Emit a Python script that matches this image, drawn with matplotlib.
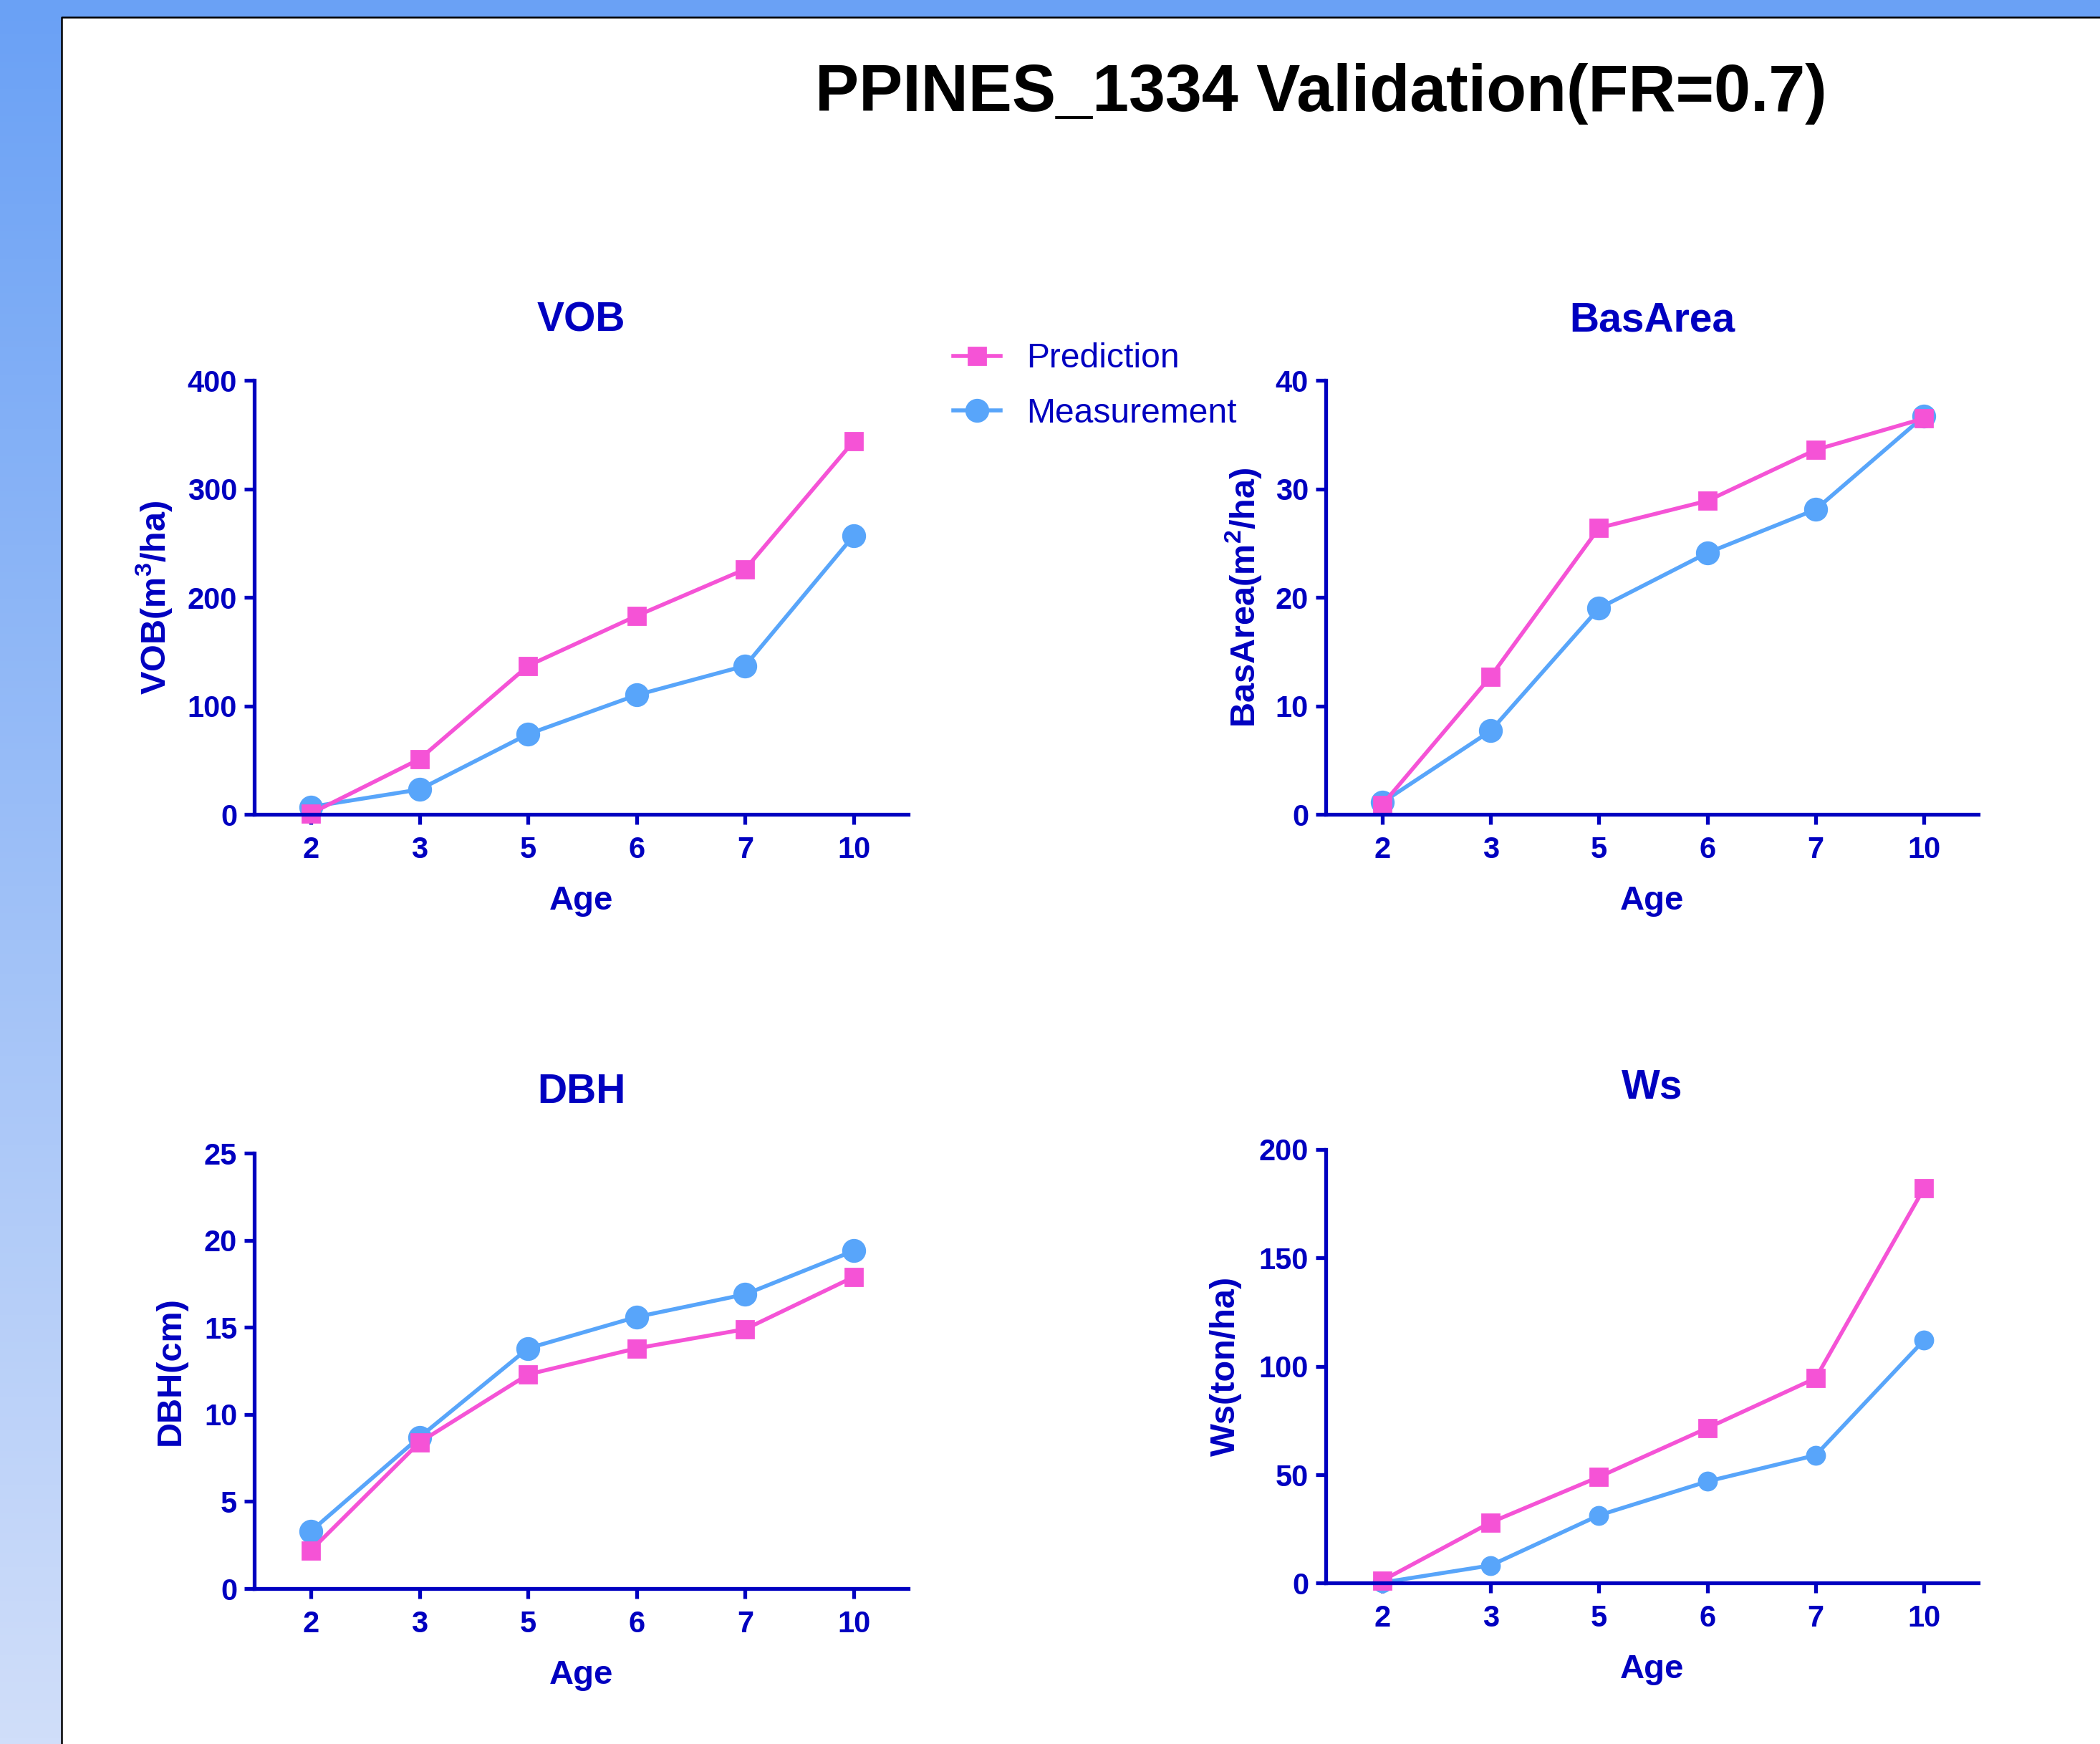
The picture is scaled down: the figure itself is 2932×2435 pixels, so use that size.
import numpy as np
import matplotlib
matplotlib.use("Agg")
import matplotlib.pyplot as plt
from matplotlib.patches import Rectangle
from matplotlib.colors import LinearSegmentedColormap

plt.rcParams["font.family"] = ["Liberation Sans", "DejaVu Sans"]
plt.rcParams["mathtext.fontset"] = "custom"
plt.rcParams["mathtext.rm"] = "Liberation Sans:bold"
plt.rcParams["mathtext.bf"] = "Liberation Sans:bold"
plt.rcParams["mathtext.default"] = "bf"

# categorical x axis (Age)
ages = ["2", "3", "5", "6", "7", "10"]

vob_pred = [1, 51, 137, 183, 226, 344]
vob_meas = [7, 23, 74, 110, 137, 257]
basarea_pred = [0.9, 12.7, 26.4, 28.9, 33.6, 36.5]
basarea_meas = [1.1, 7.7, 19.0, 24.1, 28.1, 36.7]
dbh_pred = [2.2, 8.4, 12.3, 13.8, 14.9, 17.9]
dbh_meas = [3.3, 8.7, 13.8, 15.6, 16.9, 19.4]
ws_pred = [1.2, 28, 49, 71.5, 94.5, 182]
ws_meas = [0.3, 8.2, 31.3, 46.9, 59, 112]

panel_titles = ["VOB", "BasArea", "DBH", "Ws"]
panel_ylabels = [r"VOB(m$^{3}$/ha)", r"BasArea(m$^{2}$/ha)", "DBH(cm)", "Ws(ton/ha)"]
panel_ymax = [400, 40, 25, 200]
panel_ystep = [100, 10, 5, 50]
pred_series = [vob_pred, basarea_pred, dbh_pred, ws_pred]
meas_series = [vob_meas, basarea_meas, dbh_meas, ws_meas]

TEXT = "#0000c0"
PINK = "#f553d6"
BLUE = "#58a5fa"

fig = plt.figure(figsize=(14.66, 12.175), dpi=200)

# page background: blue gradient strip left/top, white sheet with black edge
bg = fig.add_axes([0, 0, 1, 1], zorder=-10)
cmap = LinearSegmentedColormap.from_list("strip", ["#d0defa", "#6aa1f5"])
bg.imshow(np.linspace(0, 1, 256).reshape(-1, 1), cmap=cmap, origin="lower",
          extent=[0, 1, 0, 1], aspect="auto")
sheet_left, sheet_top = 86 / 2932, 1 - 24 / 2435
bg.add_patch(Rectangle((sheet_left, 0), 1 - sheet_left, sheet_top,
                       facecolor="white", edgecolor="none"))
bg.plot([sheet_left, sheet_left, 1], [0, sheet_top, sheet_top], color="black", lw=0.9)
bg.set_xlim(0, 1)
bg.set_ylim(0, 1)
bg.axis("off")

rects = [
    [0.1212, 0.533, 0.3112, 0.2489],
    [0.6314, 0.533, 0.3106, 0.2489],
    [0.1212, 0.0891, 0.3112, 0.2496],
    [0.6314, 0.0922, 0.3106, 0.2488],
]
ylabel_x = [-0.154, -0.127, -0.128, -0.153]
title_y = [1.138, 1.138, 1.14, 1.142]
circle_size = [11, 11, 11, 9]

x = np.arange(len(ages))
handles = None
for i, rect in enumerate(rects):
    ax = fig.add_axes(rect)
    hm, = ax.plot(x, meas_series[i], "-o", color=BLUE, lw=2.0, ms=circle_size[i],
                  clip_on=False, label="Measurement")
    hp, = ax.plot(x, pred_series[i], "-s", color=PINK, lw=2.0, ms=8.6,
                  clip_on=False, label="Prediction")
    if handles is None:
        handles = [hp, hm]

    ax.set_xlim(-0.52, 5.5)
    ax.set_ylim(0, panel_ymax[i])
    ax.set_xticks(x)
    ax.set_xticklabels(ages)
    ax.set_yticks(np.arange(0, panel_ymax[i] + 1, panel_ystep[i]))
    for side in ("top", "right"):
        ax.spines[side].set_visible(False)
    for side in ("left", "bottom"):
        ax.spines[side].set_color(TEXT)
        ax.spines[side].set_linewidth(1.9)
    ax.tick_params(axis="both", colors=TEXT, width=1.9, length=5.2, labelsize=15)
    ax.tick_params(axis="x", pad=5.5)
    ax.tick_params(axis="y", pad=3.5)
    for lab in ax.get_xticklabels() + ax.get_yticklabels():
        lab.set_fontweight("bold")

    ax.text(0.5, title_y[i], panel_titles[i], transform=ax.transAxes, ha="center",
            va="center", fontsize=20.5, fontweight="bold", color=TEXT)
    ax.text(0.5, -0.199, "Age", transform=ax.transAxes, ha="center",
            va="center", fontsize=17, fontweight="bold", color=TEXT)
    ax.text(ylabel_x[i], 0.5, panel_ylabels[i], transform=ax.transAxes,
            ha="center", va="center", rotation=90, fontsize=17.5,
            fontweight="bold", color=TEXT)

fig.legend(handles=handles, labels=["Prediction", "Measurement"],
           loc="upper left", bbox_to_anchor=(0.454, 0.8035), frameon=False,
           fontsize=17.3, handlelength=1.37, handletextpad=0.76,
           labelspacing=0.65, borderpad=0, borderaxespad=0, labelcolor=TEXT)

fig.text(0.629, 0.946, "PPINES_1334 Validation(FR=0.7)", ha="center",
         va="center", fontsize=33, fontweight="bold", color="black")

fig.savefig("out.png", dpi=200)
